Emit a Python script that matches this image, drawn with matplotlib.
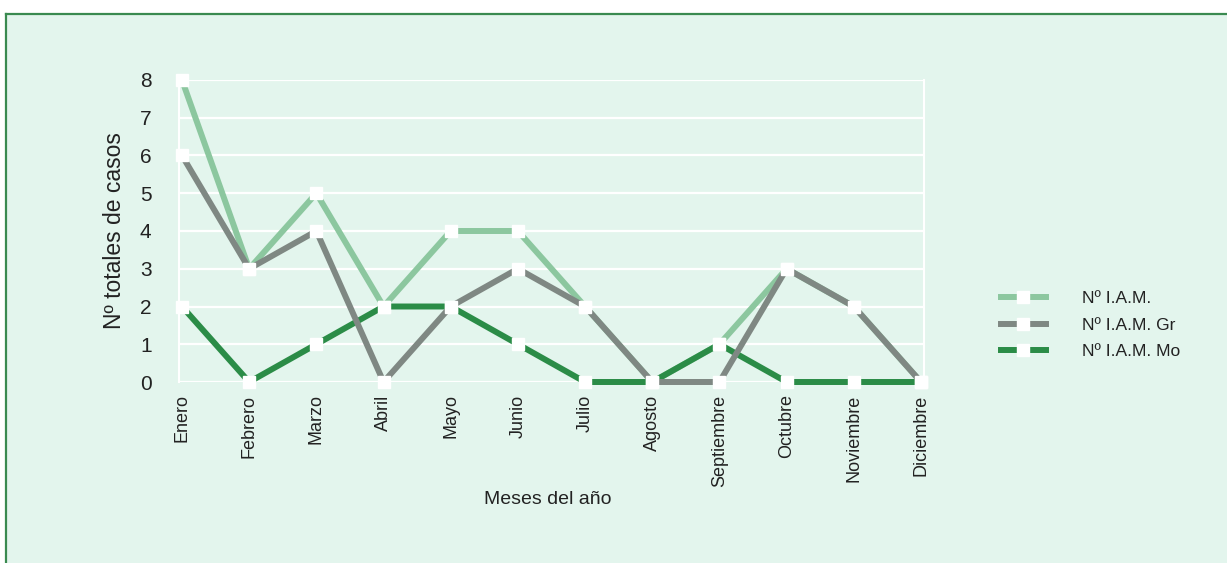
import matplotlib
matplotlib.use("Agg")
import matplotlib.pyplot as plt
from matplotlib.patches import Rectangle
from matplotlib.lines import Line2D

months = ["Enero", "Febrero", "Marzo", "Abril", "Mayo", "Junio", "Julio",
          "Agosto", "Septiembre", "Octubre", "Noviembre", "Diciembre"]
iam_total = [8, 3, 5, 2, 4, 4, 2, 0, 1, 3, 2, 0]
iam_gr = [6, 3, 4, 0, 2, 3, 2, 0, 0, 3, 2, 0]
iam_mo = [2, 0, 1, 2, 2, 1, 0, 0, 1, 0, 0, 0]
series_labels = ["Nº I.A.M.", "Nº I.A.M. Gr", "Nº I.A.M. Mo"]
y_ticks = [0, 1, 2, 3, 4, 5, 6, 7, 8]

c_light = "#8cc79f"
c_gray = "#7f8883"
c_dark = "#2b8c47"
bg = "#e3f5ed"

plt.rcParams['font.family'] = ['Liberation Sans', 'DejaVu Sans']

W, H = 1227, 563
fig = plt.figure(figsize=(W / 100, H / 100), dpi=100, facecolor="white")

# background panel with green frame (top and left visible)
fig.patches.append(Rectangle((6 / W, 0), 1 - 6 / W, 1 - 14 / H, transform=fig.transFigure,
                             facecolor=bg, edgecolor="none", zorder=-10))
fig.lines.append(Line2D([6 / W, 1], [1 - 14 / H, 1 - 14 / H], transform=fig.transFigure,
                        color="#3a8a50", lw=1.6))
fig.lines.append(Line2D([6 / W, 6 / W], [0, 1 - 14 / H], transform=fig.transFigure,
                        color="#3a8a50", lw=1.6))

x0, x11 = 182, 921
y0, y8 = 382, 80
ux = (x11 - x0) / 11
m = 0.04
left = (x0 - m * ux) / W
right = (x11 + m * ux) / W
ax = fig.add_axes([left, 1 - y0 / H, right - left, (y0 - y8) / H])
ax.set_facecolor("none")
x = list(range(len(months)))
ax.set_xlim(-m, 11 + m)
ax.set_ylim(0, 8)

for s in ["top", "bottom"]:
    ax.spines[s].set_visible(False)
for s in ["left", "right"]:
    ax.spines[s].set_color("white")
    ax.spines[s].set_linewidth(1.5)
ax.set_yticks(y_ticks)
ax.yaxis.grid(True, color="white", lw=1.6)
ax.set_axisbelow(True)
ax.tick_params(axis="y", length=0, pad=20, labelsize=15, labelcolor="#222222")
ax.set_xticks(x)
ax.set_xticklabels(months, rotation=90, va="top", ha="center")
ax.tick_params(axis="x", length=0, pad=9, labelsize=13, labelcolor="#222222")

lw = 4.3
ms = 9
h1, = ax.plot(x, iam_total, color=c_light, lw=lw, marker="s", ms=ms, mfc="white",
              mec="white", clip_on=False, zorder=3, label=series_labels[0])
h3, = ax.plot(x, iam_mo, color=c_dark, lw=lw, marker="s", ms=ms, mfc="white",
              mec="white", clip_on=False, zorder=4, label=series_labels[2])
h2, = ax.plot(x, iam_gr, color=c_gray, lw=lw, marker="s", ms=ms, mfc="white",
              mec="white", clip_on=False, zorder=5, label=series_labels[1])

ax.set_ylabel("Nº totales de casos", fontsize=16.5, labelpad=10, color="#222222")
fig.text(548 / W, 1 - 500 / H, "Meses del año", ha="center", va="center", fontsize=14,
         color="#222222")

leg = fig.legend([h1, h2, h3], series_labels, loc="center left",
                 bbox_to_anchor=(985 / W, 1 - 325 / H), frameon=False, fontsize=12.5,
                 handlelength=2.6, handletextpad=2.1, labelspacing=0.66)
for t in leg.get_texts():
    t.set_color("#222222")

fig.savefig("out.png", dpi=100, facecolor=fig.get_facecolor())
